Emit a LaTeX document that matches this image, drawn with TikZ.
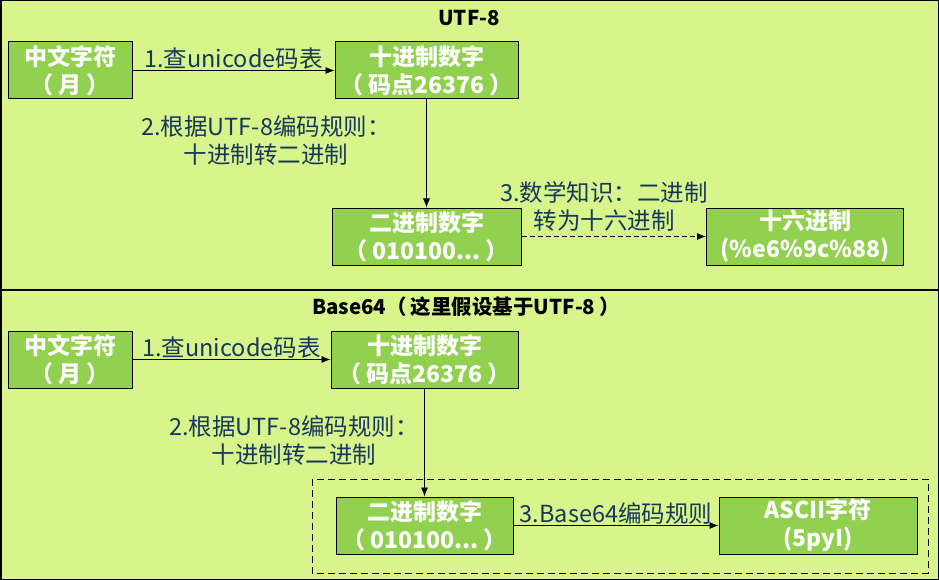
\documentclass[tikz,border=0pt]{standalone}
\usepackage{fontspec}
\setmainfont{Noto Sans CJK SC}
\usetikzlibrary{arrows.meta}
\definecolor{panelgreen}{HTML}{D8F58B}
\definecolor{boxgreen}{HTML}{92D050}
\definecolor{notenavy}{HTML}{17375E}
% full-width brackets set a little apart from their content
\newcommand{\fwparen}[1]{（\hspace{0.2em}#1\hspace{0.2em}）}
\begin{document}
\begin{tikzpicture}[x=1pt, y=-1pt,
    box/.style={draw=black, line width=1pt, fill=boxgreen, text=white,
        minimum height=57pt, inner sep=0pt, align=center,
        font=\fontsize{23}{28}\selectfont\bfseries},
    note/.style={text=notenavy, inner sep=1pt, align=center,
        font=\fontsize{23.5}{28}\selectfont},
    heading/.style={inner sep=0pt, font=\fontsize{20.5}{24}\selectfont\bfseries},
    flow/.style={-{Latex[length=9pt,width=7pt]}, line width=0.8pt}]
    \useasboundingbox (0,0) rectangle (939,580);
    % two panels
    \draw[fill=panelgreen, line width=1.5pt] (0.75,0.75) rectangle (938.25,290);
    \draw[fill=panelgreen, line width=1.5pt] (0.75,290) rectangle (938.25,579.25);
    \node[heading] (t1) at (469,18) {UTF-8};
    \node[heading] (t2) at (466,307) {Base64\fwparen{这里假设基于UTF-8}};
    % UTF-8
    \node[box, minimum width=124pt] (a1) at (70,70.5) {中文字符\\\fwparen{月}};
    \node[box, minimum width=183pt] (b1) at (426.5,70.5) {十进制数字\\\fwparen{码点26376}};
    \node[box, minimum width=189pt] (c1) at (426.5,236.5) {二进制数字\\\fwparen{010100...}};
    \node[box, minimum width=197pt] (d1) at (805,236.5) {十六进制\\(\%e6\%9c\%88)};
    \draw[flow] (a1) -- node[note, above] (l1) {1.查unicode码表} (b1);
    \draw[flow] (b1) -- (c1);
    \node[note] (l2) at (266,141) {2.根据UTF-8编码规则：\\十进制转二进制};
    \draw[flow, dashed, dash pattern=on 5pt off 3pt] (c1) -- (d1);
    \node[note] (l3) at (604,206) {3.数学知识：二进制\\转为十六进制};
    % Base64
    \node[box, minimum width=124pt] (a2) at (70,359.5) {中文字符\\\fwparen{月}};
    \node[box, minimum width=187pt] (b2) at (424.5,359.5) {十进制数字\\\fwparen{码点26376}};
    \node[box, minimum width=177pt] (c2) at (424.5,525.5) {二进制数字\\\fwparen{010100...}};
    \node[box, minimum width=198pt] (d2) at (818,525.5) {ASCII字符\\(5pyI)};
    \draw[flow] (a2) -- node[note, above] (m1) {1.查unicode码表} (b2);
    \draw[flow] (b2) -- (c2);
    \node[note] (m2) at (294,441) {2.根据UTF-8编码规则：\\十进制转二进制};
    \draw[flow] (c2) -- node[note, above] (m3) {3.Base64编码规则} (d2);
    \draw[dashed, dash pattern=on 7pt off 4pt, line width=1pt] (312,479) rectangle (928,573);
\end{tikzpicture}
\end{document}
